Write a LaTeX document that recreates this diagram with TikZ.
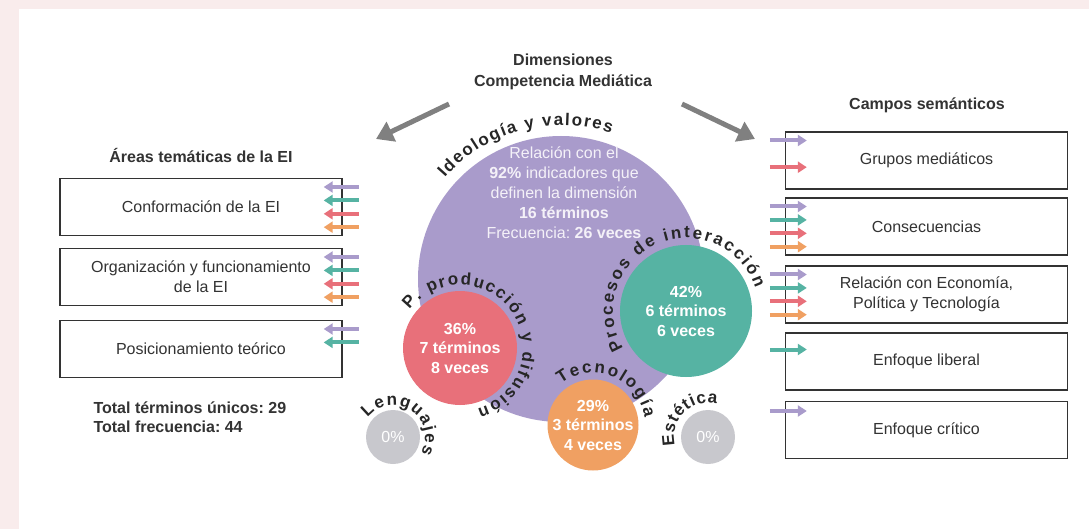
\documentclass[tikz,border=0pt]{standalone}
\usepackage{fontspec}
\setmainfont{Liberation Sans}
\newfontfamily\arcfont{Liberation Sans}
\frenchspacing
\usetikzlibrary{arrows.meta,decorations.text,calc}
\definecolor{bgpink}{HTML}{F9ECEC}
\definecolor{cpurple}{HTML}{A99BCB}
\definecolor{cred}{HTML}{E8707A}
\definecolor{cteal}{HTML}{56B3A3}
\definecolor{corange}{HTML}{F0A062}
\definecolor{cgray}{HTML}{C8C8CD}
\definecolor{arrgray}{HTML}{808080}
\definecolor{txt}{HTML}{333333}
\definecolor{ptxt}{HTML}{F4F1F8}
\begin{document}
\begin{tikzpicture}[x=1pt,y=1pt,
  box/.style={draw=txt, line width=1.4pt, minimum width=282pt, minimum height=57pt, inner sep=0pt, align=center, text=txt, font=\fontsize{16}{20}\selectfont},
  title/.style={text=txt, font=\bfseries\fontsize{16}{21}\selectfont, align=center},
  circ/.style={circle, inner sep=0pt, minimum size=#1},
  ctext/.style={text=white, font=\bfseries\fontsize{16}{19.5}\selectfont, align=center},
  ptext/.style={text=ptxt, font=\fontsize{16}{20}\selectfont, align=center},
  bigarr/.style={draw=arrgray, line width=5pt, -{Triangle[length=17pt,width=21pt]}},
  smarr/.style={line width=4pt, -{Triangle[length=9pt,width=11pt]}},
  arclabel/.style={decorate, decoration={text along path, text align=fit to path, text color=black!85, text={|\arcfont\bfseries\fontsize{17}{17}\selectfont|#1}}}
]
\useasboundingbox (0,0) rectangle (1089,-529);
\fill[bgpink] (0,0) rectangle (1089,-529);
\fill[white] (19,-9) rectangle (1089,-529);

% titles
\node[title] (dim) at (563,-72) {Dimensiones\\Competencia Mediática};
\node[title] (areas) at (201,-155) {Áreas temáticas de la EI};
\node[title] (campos) at (927,-105) {Campos semánticos};

% big gray arrows
\coordinate (la1) at (449,-104);
\coordinate (la2) at (376,-139);
\coordinate (ra1) at (682,-104);
\coordinate (ra2) at (755,-139);
\draw[bigarr] (la1) -- (la2);
\draw[bigarr] (ra1) -- (ra2);

% left boxes
\node[box] (l1) at (201,-207) {Conformación de la EI};
\node[box] (l2) at (201,-277) {Organización y funcionamiento\\de la EI};
\node[box] (l3) at (201,-349) {Posicionamiento teórico};

\foreach \b/\n in {l1/4,l2/4,l3/2}{
  \foreach \c [count=\i] in {cpurple,cteal,cred,corange}{
    \ifnum\i>\n\else
      \draw[smarr,\c] ([xshift=16pt,yshift={20-(\i-1)*13.4}]\b.east) -- ++(-35,0);
    \fi
  }
}

\node[title, anchor=west, align=left, font=\bfseries\fontsize{16}{19.5}\selectfont] (tot) at (90,-417) {Total términos únicos: 29\\Total frecuencia: 44};

% right boxes
\node[box] (r1) at (926.5,-160.5) {Grupos mediáticos};
\node[box] (r2) at (926.5,-226.5) {Consecuencias};
\node[box] (r3) at (926.5,-294.5) {Relación con Economía,\\Política y Tecnología};
\node[box] (r4) at (926.5,-361.5) {Enfoque liberal};
\node[box] (r5) at (926.5,-430) {Enfoque crítico};

\draw[smarr,cpurple] ([xshift=-15pt,yshift=20]r1.west) -- ++(37,0);
\draw[smarr,cred] ([xshift=-15pt,yshift=-6.7]r1.west) -- ++(37,0);
\foreach \b in {r2,r3}{
  \foreach \c [count=\i] in {cpurple,cteal,cred,corange}{
    \draw[smarr,\c] ([xshift=-15pt,yshift={20-(\i-1)*13.4}]\b.west) -- ++(37,0);
  }
}
\draw[smarr,cteal] ([xshift=-15pt,yshift=12]r4.west) -- ++(37,0);
\draw[smarr,cpurple] ([xshift=-15pt,yshift=19]r5.west) -- ++(37,0);

% circles
\node[circ=286pt, fill=cpurple] (pc) at (561,-279) {};
\node[circ=114pt, fill=cred] (rc) at (460,-348) {};
\node[circ=132pt, fill=cteal] (tc) at (686,-311) {};
\node[circ=91pt, fill=corange] (oc) at (593,-425) {};
\node[circ=54pt, fill=cgray] (g1) at (393,-437) {};
\node[circ=54pt, fill=cgray] (g2) at (708,-437) {};

\node[ptext] (ptx) at (564,-193) {Relación con el\\\textbf{92\%} indicadores que\\definen la dimensión\\\textbf{16 términos}\\Frecuencia: \textbf{26 veces}};
\node[ctext] at (rc) {36\%\\7 términos\\8 veces};
\node[ctext] at (tc) {42\%\\6 términos\\6 veces};
\node[ctext] at (oc) {29\%\\3 términos\\4 veces};
\node[text=white, font=\fontsize{16}{16}\selectfont] at (g1) {0\%};
\node[text=white, font=\fontsize{16}{16}\selectfont] at (g2) {0\%};

% curved labels
\path[arclabel={Ideología y valores}] ($(pc.center)+(139:154)$) arc[start angle=139, end angle=71, radius=154];
\path[arclabel={Procesos de interacción}] ($(tc.center)+(211:73)$) arc[start angle=211, end angle=18, radius=73];
\path[arclabel={P. producción y difusión}] ($(rc.center)+(143:63)$) arc[start angle=143, end angle=-74, radius=63];
\path[arclabel={Tecnología}] ($(oc.center)+(128:52)$) arc[start angle=128, end angle=8, radius=52];
\path[arclabel={Lenguajes}] ($(g1.center)+(142:32)$) arc[start angle=142, end angle=-30, radius=32];
\path[arclabel={Estética}] ($(g2.center)+(195:34)$) arc[start angle=195, end angle=75, radius=34];
\end{tikzpicture}
\end{document}
